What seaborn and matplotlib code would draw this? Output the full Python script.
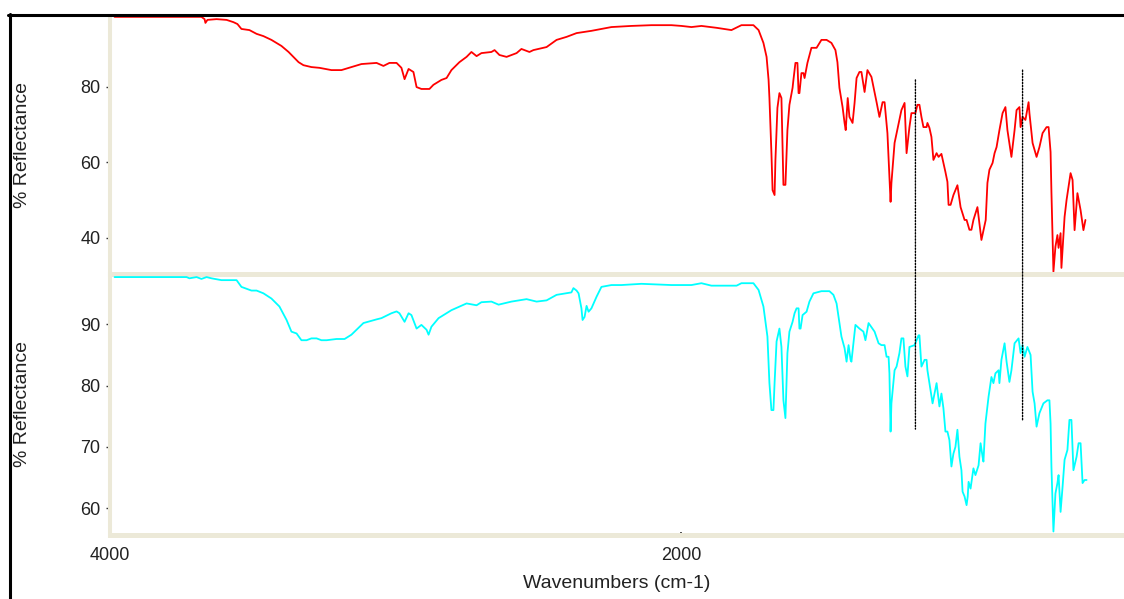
import numpy as np
import pandas as pd
import matplotlib
matplotlib.use("Agg")
import matplotlib.pyplot as plt
import seaborn as sns
from matplotlib.lines import Line2D
from matplotlib.patches import ConnectionPatch
from matplotlib.ticker import FixedLocator, MultipleLocator

# ---------------- data ----------------
red_wn = [3984, 3680, 3669, 3666, 3659, 3627, 3592, 3568, 3554, 3540, 3512, 3487, 3463, 3435,
          3400, 3375, 3358, 3340, 3323, 3295, 3267, 3225, 3190, 3155, 3120, 3067, 3043, 3022,
          2997, 2980, 2969, 2955, 2938, 2927, 2910, 2882, 2868, 2840, 2822, 2805, 2777, 2752,
          2735, 2717, 2700, 2665, 2654, 2637, 2612, 2577, 2560, 2532, 2518, 2472, 2437, 2402,
          2367, 2315, 2245, 2175, 2105, 2035, 2000, 1965, 1930, 1877, 1825, 1790, 1748, 1730,
          1713, 1702, 1695, 1692, 1685, 1681, 1674, 1671, 1664, 1657, 1650, 1643, 1636, 1629,
          1622, 1611, 1608, 1601, 1594, 1590, 1587, 1580, 1573, 1569, 1559, 1545, 1527, 1510,
          1492, 1475, 1461, 1454, 1447, 1436, 1429, 1425, 1418, 1412, 1401, 1394, 1387, 1377,
          1370, 1359, 1349, 1335, 1317, 1307, 1296, 1289, 1279, 1272, 1268, 1265, 1254, 1230,
          1219, 1212, 1202, 1195, 1181, 1174, 1167, 1160, 1153, 1142, 1139, 1132, 1125, 1118,
          1107, 1100, 1090, 1076, 1069, 1065, 1058, 1048, 1034, 1023, 1009, 1002, 992, 985,
          978, 964, 950, 935, 929, 922, 911, 904, 897, 887, 876, 866, 859, 845, 834, 827, 817,
          813, 806, 796, 785, 782, 771, 757, 747, 736, 722, 715, 708, 705, 698, 691, 684, 680,
          673, 670, 659, 652, 638, 631, 624, 614, 603, 593, 586]
red_val = [98.5, 98.5, 97.9, 96.9, 97.7, 97.9, 97.7, 97.1, 96.6, 95.3, 95.0, 94.0, 93.4, 92.4,
           90.8, 89.2, 87.9, 86.5, 85.7, 85.2, 85.0, 84.4, 84.4, 85.2, 86.0, 86.3, 85.5, 86.3,
           86.3, 85.0, 82.0, 84.7, 83.9, 79.9, 79.4, 79.4, 80.5, 81.8, 82.3, 84.4, 86.5, 87.9,
           89.2, 88.1, 88.9, 89.2, 89.7, 88.4, 87.9, 88.9, 90.0, 89.2, 89.7, 90.5, 92.4, 93.2,
           94.2, 94.8, 95.8, 96.1, 96.3, 96.3, 96.1, 95.8, 96.1, 95.6, 95.0, 96.3, 96.3, 95.0,
           91.6, 87.9, 81.8, 77.0, 62.4, 52.6, 51.3, 60.6, 74.4, 78.3, 77.0, 54.0, 54.0, 68.5,
           75.2, 79.7, 81.8, 86.3, 86.3, 78.3, 78.3, 83.6, 83.6, 82.3, 86.3, 90.3, 90.3, 92.4,
           92.4, 91.6, 89.7, 86.5, 79.7, 74.6, 70.4, 68.5, 77.0, 72.0, 70.4, 75.7, 82.3, 83.9,
           83.9, 78.6, 84.4, 82.6, 75.9, 72.0, 75.9, 75.9, 67.7, 56.1, 49.5, 54.5, 65.1, 73.8,
           75.7, 62.4, 69.3, 73.0, 73.0, 75.2, 75.2, 72.0, 69.3, 69.3, 70.4, 69.1, 66.7, 60.6,
           62.4, 61.4, 62.2, 57.4, 54.8, 48.7, 48.7, 51.3, 53.9, 48.1, 44.7, 44.7, 42.1, 42.1,
           44.7, 48.1, 39.4, 44.7, 54.5, 58.0, 59.8, 62.4, 64.0, 68.5, 73.0, 74.6, 68.5, 61.4,
           68.5, 73.8, 74.6, 69.3, 72.0, 71.2, 75.9, 73.0, 65.1, 61.4, 64.0, 67.7, 69.3, 69.3,
           62.7, 52.1, 31.0, 37.6, 40.7, 37.3, 41.2, 32.0, 45.5, 50.0, 57.1, 55.3, 42.0, 51.8,
           47.3, 42.0, 44.7]

cyan_wn = [3984, 3732, 3722, 3697, 3680, 3662, 3645, 3610, 3557, 3540, 3505, 3487, 3463, 3435,
           3407, 3382, 3365, 3347, 3330, 3312, 3295, 3277, 3260, 3242, 3207, 3179, 3155, 3113,
           3067, 3050, 3015, 2997, 2987, 2969, 2955, 2945, 2927, 2910, 2892, 2885, 2875, 2850,
           2805, 2752, 2717, 2700, 2665, 2640, 2595, 2542, 2507, 2472, 2437, 2385, 2378, 2367,
           2360, 2350, 2346, 2339, 2332, 2325, 2315, 2297, 2280, 2245, 2210, 2140, 2035, 1965,
           1930, 1895, 1807, 1790, 1748, 1730, 1713, 1699, 1692, 1685, 1678, 1674, 1667, 1657,
           1650, 1643, 1636, 1629, 1622, 1611, 1604, 1597, 1590, 1587, 1583, 1576, 1562, 1552,
           1538, 1510, 1482, 1468, 1457, 1450, 1440, 1429, 1422, 1415, 1408, 1405, 1398, 1391,
           1377, 1363, 1356, 1345, 1324, 1310, 1300, 1289, 1282, 1275, 1272, 1268, 1265, 1254,
           1247, 1237, 1230, 1223, 1216, 1209, 1202, 1184, 1170, 1167, 1160, 1149, 1142, 1139,
           1132, 1121, 1107, 1097, 1090, 1083, 1076, 1069, 1062, 1055, 1048, 1041, 1034, 1027,
           1020, 1016, 1009, 1002, 998, 995, 988, 978, 971, 960, 953, 946, 943, 936, 925, 915,
           908, 901, 890, 887, 880, 869, 862, 852, 845, 834, 820, 813, 806, 799, 789, 778, 771,
           764, 757, 747, 733, 719, 712, 708, 705, 698, 691, 684, 680, 673, 666, 659, 649, 642,
           635, 628, 617, 610, 603, 596, 589, 582]
cyan_val = [97.7, 97.7, 97.5, 97.7, 97.4, 97.7, 97.5, 97.2, 97.2, 96.1, 95.5, 95.5, 95.05, 94.2,
            92.9, 90.7, 88.8, 88.5, 87.4, 87.4, 87.7, 87.7, 87.4, 87.4, 87.6, 87.6, 88.3, 90.2,
            90.8, 91.0, 91.8, 92.1, 91.8, 90.4, 91.8, 91.5, 89.3, 89.9, 89.1, 88.3, 89.6, 91.0,
            92.3, 93.4, 93.1, 93.6, 93.7, 93.2, 93.7, 94.1, 93.7, 93.9, 94.8, 95.2, 95.9, 95.5,
            95.05, 92.6, 90.7, 91.2, 93.0, 92.05, 92.6, 94.5, 96.1, 96.4, 96.4, 96.6, 96.4, 96.4,
            96.7, 96.3, 96.3, 96.7, 96.7, 95.6, 92.9, 88.0, 80.4, 76.0, 76.0, 80.4, 87.2, 89.3,
            86.3, 77.6, 74.7, 85.3, 88.8, 90.4, 91.8, 92.6, 92.6, 89.3, 89.3, 91.5, 92.05, 93.7,
            95.05, 95.4, 95.4, 94.8, 93.4, 91.2, 88.0, 86.1, 83.9, 86.6, 84.2, 83.9, 86.9, 89.9,
            89.3, 88.8, 87.4, 90.2, 88.8, 86.9, 86.6, 86.6, 84.7, 84.7, 82.0, 72.5, 77.1, 82.5,
            83.1, 85.3, 87.7, 87.7, 83.1, 81.5, 86.3, 86.6, 88.2, 88.2, 83.1, 84.2, 84.2, 82.5,
            80.4, 77.1, 80.4, 76.6, 78.7, 76.3, 72.5, 72.5, 71.1, 66.8, 68.9, 70.0, 72.8, 68.4,
            66.2, 62.7, 61.9, 60.5, 61.9, 64.3, 63.2, 66.5, 65.4, 67.0, 70.6, 68.4, 67.6, 73.8,
            78.2, 81.4, 80.4, 82.0, 82.5, 80.4, 84.2, 86.9, 83.9, 80.6, 82.5, 86.9, 87.7, 85.3,
            86.6, 84.7, 86.3, 85.0, 79.0, 77.1, 73.3, 75.5, 77.1, 77.6, 77.6, 73.8, 66.8, 56.2,
            62.4, 64.1, 65.4, 59.4, 63.5, 67.9, 69.5, 74.4, 74.4, 66.2, 68.4, 70.6, 70.6, 64.1,
            64.6, 64.6]

marker_wn = [1181, 806]
marker_top_val = [81.8, 84.4]     # where the dotted markers start (top spectrum scale)
marker_bot_val = [72.9, 74.4]     # where they end (bottom spectrum scale)

top_yticks = [40, 60, 80]
bot_yticks = [60, 70, 80, 90]
x_ticks = [4000, 2000]

# ---------------- style ----------------
sns.set_theme(style="white")
plt.rcParams["font.family"] = ["Liberation Sans", "DejaVu Sans"]

BEIGE = "#ECE9D8"
TXT = "#222222"
W, H = 1124, 599
fig = plt.figure(figsize=(W / 100, H / 100), dpi=100)
fig.patch.set_facecolor("white")


def rect(l, t, r, b):
    return [l / W, 1 - b / H, (r - l) / W, (b - t) / H]


ax1 = fig.add_axes(rect(110, 16, 1124, 274.5))
ax2 = fig.add_axes(rect(110, 274.5, 1124, 534.5))

red_df = pd.DataFrame({"wn": red_wn, "val": red_val})
cyan_df = pd.DataFrame({"wn": cyan_wn, "val": cyan_val})
sns.lineplot(data=red_df, x="wn", y="val", ax=ax1, color="#FF0000", lw=1.3,
             sort=False, estimator=None, legend=False)
sns.lineplot(data=cyan_df, x="wn", y="val", ax=ax2, color="#00FFFF", lw=1.3,
             sort=False, estimator=None, legend=False)

xmax_right = 451
for ax in (ax1, ax2):
    ax.set_facecolor("none")
    ax.set_xlim(4000, xmax_right)
    for s in ("top", "right"):
        ax.spines[s].set_visible(False)
    ax.spines["left"].set_color(BEIGE)
    ax.spines["left"].set_linewidth(2.9)
    ax.spines["bottom"].set_color(BEIGE)
    ax.spines["bottom"].set_linewidth(3.6)
    ax.set_ylabel("% Reflectance", fontsize=14, color=TXT, va="center")
    ax.yaxis.set_label_coords(-0.086, 0.5)
    ax.tick_params(axis="y", which="major", direction="out", length=3, width=1,
                   color="#333333", labelsize=13, labelcolor=TXT, pad=4, left=True)
    ax.tick_params(axis="y", which="minor", direction="in", length=1.5, width=1.6,
                   color="#333333", left=True)

ax1.set_ylim(30.25, 98.73)
ax2.set_ylim(55.71, 98.12)
ax1.yaxis.set_major_locator(FixedLocator(top_yticks))
ax1.yaxis.set_minor_locator(MultipleLocator(5))
ax2.yaxis.set_major_locator(FixedLocator(bot_yticks))
ax2.yaxis.set_minor_locator(MultipleLocator(2.5))

ax1.set_xlabel("")
ax1.tick_params(axis="x", which="both", bottom=False, labelbottom=False)
ax2.xaxis.set_major_locator(FixedLocator(x_ticks))
ax2.xaxis.set_minor_locator(MultipleLocator(500))
ax2.tick_params(axis="x", which="major", direction="inout", length=4, width=1.2,
                color="#333333", labelsize=13, labelcolor=TXT, pad=7, bottom=True)
ax2.tick_params(axis="x", which="minor", direction="in", length=1.5, width=1.6,
                color="#333333", bottom=True)
ax2.set_xlabel("Wavenumbers (cm-1)", fontsize=14, color=TXT, labelpad=8)

# dotted marker lines crossing both panels
for wn, vt, vb in zip(marker_wn, marker_top_val, marker_bot_val):
    cp = ConnectionPatch(xyA=(wn, vt), coordsA="data", axesA=ax1,
                         xyB=(wn, vb), coordsB="data", axesB=ax2,
                         color="black", lw=1.0, linestyle=(0, (1, 1.2)), zorder=5)
    fig.add_artist(cp)

# black window frame (top and left)
fig.add_artist(Line2D([8 / W, 1.0], [1 - 15 / H, 1 - 15 / H], color="black", lw=2.2,
                      transform=fig.transFigure))
fig.add_artist(Line2D([9.5 / W, 9.5 / W], [0.0, 1 - 13.5 / H], color="black", lw=2.2,
                      transform=fig.transFigure))

fig.savefig("out.png", dpi=100, facecolor="white")
